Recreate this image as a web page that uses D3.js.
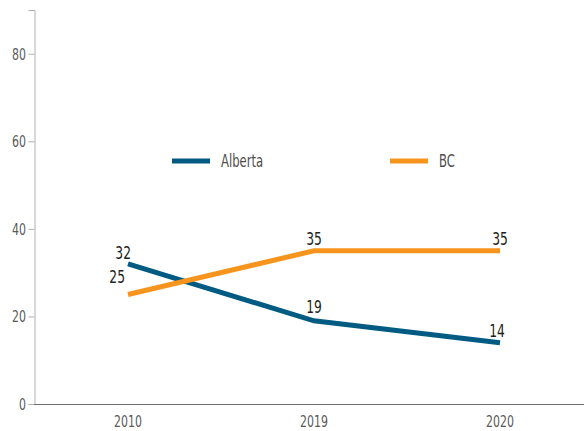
<!DOCTYPE html>
<html>
<head>
<meta charset="utf-8">
<script src="https://cdn.jsdelivr.net/npm/d3@7"></script>
<style>
  body { margin: 0; background: #fff; }
  text { font-family: "DejaVu Sans Condensed", "DejaVu Sans", sans-serif; }
</style>
</head>
<body>
<svg width="584" height="431"></svg>
<script>
const svg = d3.select("svg");

const years = ['2010', '2019', '2020'];
const alberta = [32, 19, 14];
const bc = [25, 35, 35];
const yTicks = [0, 20, 40, 60, 80];

const colorAlberta = '#005b82';
const colorBC = '#f7941d';
const narrow = 0.76; // squeeze text to look like a condensed face

// scales
const xScale = d3.scalePoint()
  .domain(years)
  .range([35, 593])
  .padding(0.5);

const yScale = d3.scaleLinear()
  .domain([0, 90])
  .range([404, 10]);

// helper that places a squeezed text
const squeezed = (sel, x, y) =>
  sel.attr('transform', (d, i) => `translate(${x(d, i)},${y(d, i)}) scale(${narrow},1)`);

// y axis
const yAxis = d3.axisLeft(yScale)
  .tickValues(yTicks)
  .tickSize(6)
  .tickFormat('');

const yAxisG = svg.append('g')
  .attr('transform', 'translate(34.5,0)')
  .call(yAxis);

yAxisG.select('.domain').attr('stroke', '#b0b0b0');
yAxisG.selectAll('.tick line').attr('stroke', '#b0b0b0');

svg.append('g').selectAll('text').data(yTicks)
  .enter().append('text')
    .call(squeezed, () => 26, d => yScale(d) + 6)
    .attr('text-anchor', 'end')
    .attr('font-size', 16)
    .attr('fill', '#595959')
    .text(d => d);

// x axis
svg.append('line')
  .attr('x1', 34).attr('x2', 584)
  .attr('y1', yScale(0) + 0.5).attr('y2', yScale(0) + 0.5)
  .attr('stroke', '#6d6d6d')
  .attr('stroke-width', 1.2);

svg.append('g').selectAll('text').data(years)
  .enter().append('text')
    .call(squeezed, d => xScale(d), () => 427)
    .attr('text-anchor', 'middle')
    .attr('font-size', 16)
    .attr('fill', '#595959')
    .text(d => d);

// lines
const series = [
  { name: 'Alberta', values: alberta, color: colorAlberta },
  { name: 'BC', values: bc, color: colorBC }
];

const line = d3.line()
  .x((d, i) => xScale(years[i]))
  .y(d => yScale(d));

svg.append('g').selectAll('path').data(series)
  .enter().append('path')
    .attr('d', d => line(d.values))
    .attr('fill', 'none')
    .attr('stroke', d => d.color)
    .attr('stroke-width', 5);

// value labels
const labelOffsets = {
  Alberta: [{ dx: 3, dy: -5, anchor: 'end' }, { dx: 0, dy: -8, anchor: 'middle' }, { dx: -3, dy: -6, anchor: 'middle' }],
  BC: [{ dx: -3, dy: -12, anchor: 'end' }, { dx: 0, dy: -6, anchor: 'middle' }, { dx: 0, dy: -6, anchor: 'middle' }]
};

series.forEach(s => {
  svg.append('g').selectAll('text').data(s.values)
    .enter().append('text')
      .call(squeezed,
        (d, i) => xScale(years[i]) + labelOffsets[s.name][i].dx,
        (d, i) => yScale(d) + labelOffsets[s.name][i].dy)
      .attr('text-anchor', (d, i) => labelOffsets[s.name][i].anchor)
      .attr('font-size', 18)
      .attr('fill', '#231f20')
      .text(d => d);
});

// legend
const legend = svg.append('g').attr('class', 'legend');
const legendPos = [{ x: 172, y: 161 }, { x: 390, y: 161 }];

series.forEach((s, i) => {
  const lg = legend.append('g')
    .attr('transform', `translate(${legendPos[i].x},${legendPos[i].y})`);
  lg.append('line')
    .attr('x1', 0).attr('x2', 38)
    .attr('stroke', s.color)
    .attr('stroke-width', 5);
  lg.append('text')
    .text(s.name)
    .attr('transform', `translate(49,6) scale(${narrow},1)`)
    .attr('font-size', 17)
    .attr('fill', '#4d4d4d');
});
</script>
</body>
</html>
